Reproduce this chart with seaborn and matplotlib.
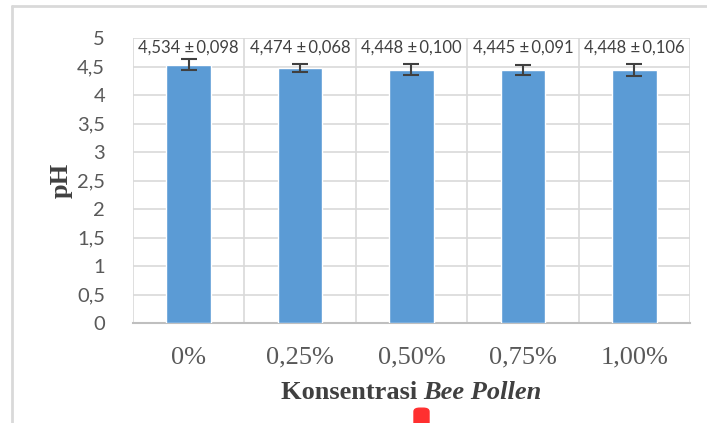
import numpy as np
import pandas as pd
import matplotlib
matplotlib.use("Agg")
import matplotlib.pyplot as plt
import seaborn as sns
from matplotlib.patches import FancyBboxPatch
from matplotlib.lines import Line2D

# data
konsentrasi = ["0%", "0,25%", "0,50%", "0,75%", "1,00%"]
ph_mean = [4.534, 4.474, 4.448, 4.445, 4.448]
ph_sd = [0.098, 0.068, 0.100, 0.091, 0.106]
y_ticks = [0, 0.5, 1, 1.5, 2, 2.5, 3, 3.5, 4, 4.5, 5]

df = pd.DataFrame({"konsentrasi": konsentrasi, "ph": ph_mean, "sd": ph_sd})

sns.set_style("white")
plt.rcParams["font.family"] = ["Lato", "DejaVu Sans"]

fig = plt.figure(figsize=(7.07, 4.23), dpi=100)
ax = fig.add_axes([0.188, 0.236, 0.788, 0.674])

sns.barplot(data=df, x="konsentrasi", y="ph", color="#5B9BD5", width=0.4,
            saturation=1, ax=ax, zorder=3)
ax.errorbar(np.arange(len(df)), df["ph"], yerr=df["sd"], fmt="none",
            ecolor="#404040", elinewidth=1.5, capsize=6, capthick=1.5, zorder=4)

# labels above the bars
for i, (m, s) in enumerate(zip(ph_mean, ph_sd)):
    txt = f"{m:.3f} \u00b1\u2009{s:.3f}".replace(".", ",")
    ax.text(i, 4.84, txt, ha="center", va="center", fontsize=12,
            color="#404040", zorder=5)

ax.set_ylim(0, 5)
ax.set_xlim(-0.5, len(df) - 0.5)
ax.set_yticks(y_ticks)
ax.set_yticklabels([f"{t:g}".replace(".", ",") for t in y_ticks],
                   fontsize=14.5, color="#595959")
ax.set_xticks(range(len(df)))
ax.set_xticklabels(konsentrasi, fontsize=19, color="#595959",
                   family="Liberation Serif")
ax.tick_params(axis="y", length=0, pad=20)
ax.tick_params(axis="x", length=0, pad=17)

# grid: horizontal at ticks, vertical at category borders
for t in y_ticks[1:]:
    ax.axhline(t, color="#d9d9d9", lw=1.2, zorder=1)
for b in np.arange(-0.5, len(df), 1.0):
    ax.axvline(b, color="#d9d9d9", lw=1.2, zorder=1)
for side in ["top", "right", "left"]:
    ax.spines[side].set_visible(False)
ax.spines["bottom"].set_color("#bfbfbf")
ax.spines["bottom"].set_linewidth(1.5)

ax.set_ylabel("pH", fontsize=19, fontweight="bold", color="#404040",
              family="Liberation Serif", labelpad=3)
ax.set_xlabel("")
fig.text(0.599, 0.073, "Konsentrasi ", ha="right", va="center",
         fontsize=19, fontweight="bold", color="#404040", family="Liberation Serif")
fig.text(0.599, 0.073, "Bee Pollen", ha="left", va="center",
         fontsize=19, fontweight="bold", style="italic", color="#404040",
         family="Liberation Serif")

# outer frame of the chart area
fig.add_artist(Line2D([12 / 707, 12 / 707], [0, 1 - 6 / 423], color="#d9d9d9",
                      lw=2, transform=fig.transFigure))
fig.add_artist(Line2D([12 / 707, 1], [1 - 6 / 423, 1 - 6 / 423], color="#d9d9d9",
                      lw=2, transform=fig.transFigure))

# small red marker at the bottom
fig.add_artist(FancyBboxPatch((414 / 707, -0.01), 15 / 707, 0.045,
                              boxstyle="round,pad=0,rounding_size=0.008",
                              color="#ff3030", transform=fig.transFigure))

fig.savefig("out.png", dpi=100)
